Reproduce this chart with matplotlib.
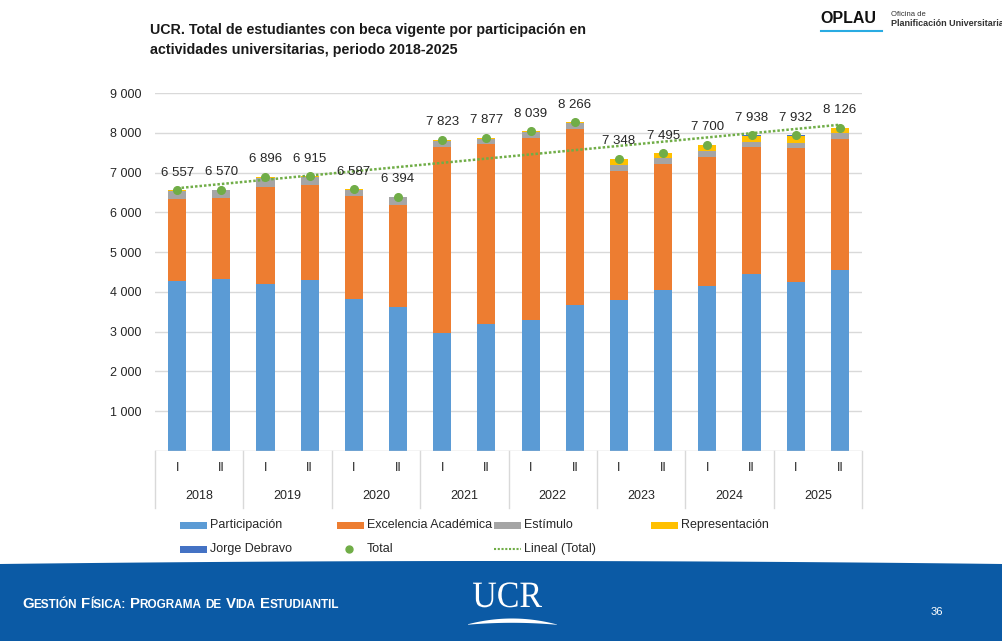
import numpy as np
import matplotlib
matplotlib.use('Agg')
import matplotlib.pyplot as plt
from matplotlib.patches import Rectangle, Polygon, PathPatch
from matplotlib.lines import Line2D
from matplotlib.textpath import TextPath
from matplotlib.font_manager import FontProperties
import matplotlib.transforms as mtransforms

plt.rcParams['font.family'] = ['Liberation Sans', 'DejaVu Sans']

# ---------------- data ----------------
years = ['2018', '2019', '2020', '2021', '2022', '2023', '2024', '2025']
semesters = ['I', 'II']
participacion = [4280, 4330, 4200, 4300, 3830, 3620, 2970, 3190,
                 3290, 3660, 3790, 4040, 4140, 4450, 4250, 4560]
excelencia = [2055, 2025, 2435, 2385, 2590, 2570, 4680, 4520,
              4580, 4445, 3250, 3170, 3245, 3185, 3360, 3280]
estimulo = [210, 200, 220, 195, 150, 185, 135, 145,
            145, 145, 145, 145, 145, 135, 135, 150]
representacion = [8, 10, 35, 30, 12, 14, 30, 16,
                  18, 10, 150, 125, 160, 160, 180, 125]
jorge_debravo = [4, 5, 6, 5, 5, 5, 8, 6,
                 6, 6, 13, 15, 10, 8, 7, 11]
total = [6557, 6570, 6896, 6915, 6587, 6394, 7823, 7877,
         8039, 8266, 7348, 7495, 7700, 7938, 7932, 8126]
y_ticks = [1000, 2000, 3000, 4000, 5000, 6000, 7000, 8000, 9000]

series_names = ['Participación', 'Excelencia Académica', 'Estímulo',
                'Representación', 'Jorge Debravo']
series_colors = ['#5B9BD5', '#ED7D31', '#A5A5A5', '#FFC000', '#4472C4']
series_values = [participacion, excelencia, estimulo, representacion, jorge_debravo]
green = '#70AD47'
txt_col = '#262626'
grid_col = '#D9D9D9'


def fmt(v):
    return f"{v:,}".replace(',', ' ')


W, H = 1002, 641
fig = plt.figure(figsize=(W / 100, H / 100), dpi=100)
fig.patch.set_facecolor('white')


def fx(x):
    return x / W


def fy(y):
    return 1 - y / H


ax = fig.add_axes([fx(155), fy(451), 707 / W, 358 / H])
n = len(total)
x = np.arange(n)
ax.set_xlim(-0.5, n - 0.5)
ax.set_ylim(0, 9000)

bottom = np.zeros(n)
for vals, col in zip(series_values, series_colors):
    ax.bar(x, vals, width=0.41, bottom=bottom, color=col, zorder=2, linewidth=0)
    bottom += np.array(vals)

# trend line (linear fit of totals)
coef = np.polyfit(x, total, 1)
ax.plot(x, np.polyval(coef, x), linestyle=(0, (1, 0.8)), color=green, lw=1.8, zorder=4)
ax.plot(x, total, 'o', color=green, ms=5.5, zorder=5)
for xi, t in zip(x, total):
    ax.annotate(fmt(t), (xi, t), xytext=(0, 12.5), textcoords='offset points',
                ha='center', va='center', fontsize=9.5, color=txt_col, zorder=6)

ax.set_yticks(y_ticks)
ax.set_yticklabels([fmt(v) for v in y_ticks], fontsize=9, color=txt_col)
ax.tick_params(axis='y', length=0, pad=10)
ax.set_xticks([])
ax.yaxis.grid(True, color=grid_col, lw=1)
ax.set_axisbelow(True)
for s in ax.spines.values():
    s.set_visible(False)
ax.axhline(0, color='#C8C8C8', lw=1, zorder=3)

# two-level category axis
tr = mtransforms.blended_transform_factory(ax.transData, ax.transAxes)
box_depth = (508 - 451) / 358
for b in np.arange(-0.5, n, 2):
    ax.plot([b, b], [0, -box_depth], transform=tr, clip_on=False, color=grid_col, lw=1)
for i in range(n):
    ax.text(i, -(468 - 451) / 358, semesters[i % 2], transform=tr, ha='center', va='center',
            fontsize=9, color=txt_col)
for j, yr in enumerate(years):
    ax.text(2 * j + 0.5, -(496 - 451) / 358, yr, transform=tr, ha='center', va='center',
            fontsize=9, color=txt_col)

# legend (manual)
leg_pos = [(180, 525), (337, 525), (494, 525), (651, 525), (180, 549)]
for (lx, ly), name, col in zip(leg_pos, series_names, series_colors):
    fig.add_artist(Rectangle((fx(lx), fy(ly + 3.5)), 27 / W, 7 / H, transform=fig.transFigure,
                             color=col, lw=0))
    fig.text(fx(lx + 30), fy(ly), name, fontsize=9, color=txt_col, va='center')
fig.add_artist(Line2D([fx(349)], [fy(549)], marker='o', color=green, ms=5, lw=0,
                      transform=fig.transFigure))
fig.text(fx(367), fy(549), 'Total', fontsize=9, color=txt_col, va='center')
fig.add_artist(Line2D([fx(494), fx(521)], [fy(549), fy(549)], color=green, lw=1.5,
                      linestyle=(0, (1, 0.8)), transform=fig.transFigure))
fig.text(fx(524), fy(549), 'Lineal (Total)', fontsize=9, color=txt_col, va='center')

# title
fig.text(fx(150), fy(30), 'UCR. Total de estudiantes con beca vigente por participación en',
         fontsize=10.3, fontweight='bold', color='#1a1a1a', va='center')
fig.text(fx(150), fy(50), 'actividades universitarias, periodo 2018-2025',
         fontsize=10.3, fontweight='bold', color='#1a1a1a', va='center')

# OPLAU logo
fig.text(fx(820), fy(23), 'OPLAU', fontsize=11.5, fontweight='bold', color='#111111',
         va='baseline')
fig.add_artist(Line2D([fx(821), fx(882)], [fy(31), fy(31)], color='#29ABE2', lw=1.5,
                      transform=fig.transFigure))
fig.text(fx(891), fy(14), 'Oficina de', fontsize=5.5, color='#333333', va='center')
fig.text(fx(891), fy(23), 'Planificación Universitaria', fontsize=6.5, fontweight='bold',
         color='#333333', va='center')

# footer band
band_col = '#0B5AA5'
xs = np.linspace(0, W, 60)
top = 561 + 3 * ((xs - W / 2) / (W / 2)) ** 2
pts = [(fx(a), fy(b)) for a, b in zip(xs, top)] + [(1, 0), (0, 0)]
fig.add_artist(Polygon(pts, closed=True, transform=fig.transFigure, color=band_col, lw=0))

# footer small caps text
renderer = fig.canvas.get_renderer()
runs = [('G', 10.8), ('ESTIÓN', 8.5), (None, 0), ('F', 10.8), ('ÍSICA:', 8.5), (None, 0),
        ('P', 10.8), ('ROGRAMA', 8.5), (None, 0), ('DE', 8.5), (None, 0), ('V', 10.8), ('IDA', 8.5),
        (None, 0), ('E', 10.8), ('STUDIANTIL', 8.5)]
cx = 22
for s, size in runs:
    if s is None:
        cx += 4
        continue
    t = fig.text(fx(cx), fy(608), s, fontsize=size, fontweight='bold', color='white',
                 va='baseline')
    cx += t.get_window_extent(renderer).width

fig.text(fx(931), fy(612), '36', fontsize=8, color='white', va='center')

# UCR logo
tp = TextPath((0, 0), 'UCR', size=1, prop=FontProperties(family='Liberation Serif'))
ext = tp.get_extents()
sx = 69 / ext.width
sy = 25 / ext.height
logo_tr = mtransforms.Affine2D().translate(-ext.x0, 0).scale(sx, sy).translate(473, H - 607)
fig.add_artist(PathPatch(tp, transform=logo_tr, color='white', lw=0))
sw_x = np.linspace(468, 557, 40)
u = (sw_x - 512) / 45
upper = 618.5 + 6 * u ** 2
lower = 622.8 + 2 * u ** 2
sw_pts = [(fx(a), fy(b)) for a, b in zip(sw_x, upper)] + \
         [(fx(a), fy(b)) for a, b in zip(sw_x[::-1], lower[::-1])]
fig.add_artist(Polygon(sw_pts, closed=True, transform=fig.transFigure, color='white', lw=0))

fig.savefig('out.png', dpi=100, facecolor='white')
